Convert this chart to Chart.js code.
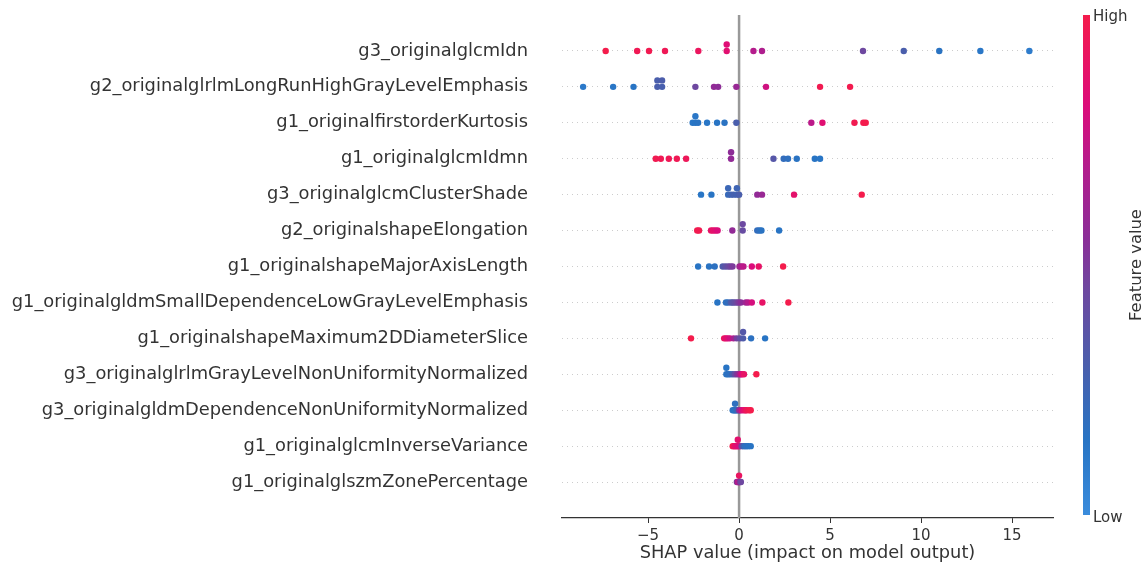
<!DOCTYPE html>
<html>
<head>
<meta charset="utf-8">
<script src="https://cdn.jsdelivr.net/npm/chart.js@4"></script>
<style>
  html, body { margin: 0; padding: 0; background: #fff; }
  #wrap { width: 1148px; height: 564px; }
</style>
</head>
<body>
<div id="wrap"><canvas id="shapChart" width="1148" height="564"></canvas></div>
<script>
// Features, top to bottom
var features = [
  'g3_originalglcmIdn',
  'g2_originalglrlmLongRunHighGrayLevelEmphasis',
  'g1_originalfirstorderKurtosis',
  'g1_originalglcmIdmn',
  'g3_originalglcmClusterShade',
  'g2_originalshapeElongation',
  'g1_originalshapeMajorAxisLength',
  'g1_originalgldmSmallDependenceLowGrayLevelEmphasis',
  'g1_originalshapeMaximum2DDiameterSlice',
  'g3_originalglrlmGrayLevelNonUniformityNormalized',
  'g3_originalgldmDependenceNonUniformityNormalized',
  'g1_originalglcmInverseVariance',
  'g1_originalglszmZonePercentage'
];

// SHAP values per feature
var shapVals = [
  [-7.33, -5.6, -4.95, -4.07, -2.24, -0.68, -0.68, 0.79, 1.26, 6.81, 9.05, 11.0, 13.26, 15.95],
  [-8.57, -6.92, -5.8, -4.49, -4.49, -4.23, -4.23, -2.4, -1.38, -1.15, -0.15, 1.48, 4.45, 6.1],
  [-2.55, -2.4, -2.4, -2.25, -1.76, -1.21, -0.8, -0.15, 3.97, 4.58, 6.34, 6.83, 6.96],
  [-4.58, -4.3, -3.86, -3.42, -2.91, -0.44, -0.44, 1.89, 2.45, 2.69, 3.17, 4.16, 4.45],
  [-2.09, -1.52, -0.6, -0.6, -0.45, -0.3, -0.12, -0.12, 0.0, 1.0, 1.26, 3.02, 6.74],
  [-2.3, -2.2, -1.54, -1.42, -1.3, -1.18, -0.37, 0.2, 0.2, 1.0, 1.12, 1.23, 2.2],
  [-2.25, -1.65, -1.34, -0.9, -0.75, -0.6, -0.48, -0.36, 0.02, 0.12, 0.24, 0.7, 1.08, 2.42],
  [-1.19, -0.72, -0.6, -0.45, -0.35, -0.24, -0.12, -0.02, 0.1, 0.37, 0.5, 0.7, 1.28, 2.71],
  [-2.64, -0.82, -0.72, -0.62, -0.5, -0.3, -0.13, 0.05, 0.22, 0.22, 0.66, 1.43],
  [-0.7, -0.7, -0.6, -0.49, -0.35, -0.22, -0.1, 0.02, 0.1, 0.16, 0.27, 0.95],
  [-0.35, -0.27, -0.22, -0.22, -0.15, -0.09, 0.0, 0.05, 0.15, 0.27, 0.35, 0.42, 0.55, 0.64],
  [-0.35, -0.28, -0.22, -0.15, -0.07, -0.07, 0.0, 0.14, 0.25, 0.33, 0.42, 0.51, 0.64],
  [-0.12, -0.06, -0.03, 0.0, 0.0, 0.05, 0.1]
];

// Normalised feature values (0 = low, 1 = high)
var featVals = [
  [1.0, 0.97, 0.98, 0.96, 0.93, 0.86, 0.84, 0.7, 0.68, 0.45, 0.3, 0.16, 0.13, 0.1],
  [0.12, 0.14, 0.15, 0.3, 0.3, 0.29, 0.31, 0.45, 0.58, 0.56, 0.6, 0.78, 0.98, 0.99],
  [0.14, 0.15, 0.13, 0.16, 0.14, 0.15, 0.16, 0.3, 0.72, 0.85, 0.98, 0.99, 1.0],
  [0.98, 0.97, 0.96, 0.97, 0.95, 0.58, 0.56, 0.35, 0.2, 0.18, 0.16, 0.15, 0.14],
  [0.14, 0.15, 0.22, 0.24, 0.25, 0.28, 0.27, 0.25, 0.3, 0.58, 0.6, 0.88, 1.0],
  [0.99, 0.98, 0.9, 0.88, 0.86, 0.82, 0.58, 0.42, 0.44, 0.2, 0.18, 0.16, 0.15],
  [0.15, 0.16, 0.17, 0.32, 0.38, 0.42, 0.46, 0.5, 0.62, 0.68, 0.72, 0.82, 0.9, 1.0],
  [0.15, 0.17, 0.2, 0.3, 0.36, 0.4, 0.45, 0.5, 0.55, 0.62, 0.7, 0.8, 0.9, 1.0],
  [1.0, 0.92, 0.88, 0.84, 0.78, 0.66, 0.48, 0.4, 0.32, 0.34, 0.17, 0.15],
  [0.16, 0.15, 0.17, 0.18, 0.3, 0.42, 0.52, 0.62, 0.75, 0.82, 0.9, 1.0],
  [0.16, 0.17, 0.15, 0.18, 0.2, 0.24, 0.5, 0.62, 0.8, 0.85, 0.9, 0.95, 0.98, 1.0],
  [1.0, 0.95, 0.88, 0.86, 0.85, 0.87, 0.8, 0.45, 0.25, 0.18, 0.17, 0.16, 0.15],
  [0.5, 0.8, 0.6, 0.7, 0.92, 0.55, 0.45]
];

var xTicks = [-5, 0, 5, 10, 15];

// colour map (low blue -> purple -> high red)
var cmapStops = [
  [0.0, [58, 140, 220]],
  [0.15, [40, 116, 196]],
  [0.3, [74, 94, 172]],
  [0.45, [110, 72, 160]],
  [0.55, [138, 46, 152]],
  [0.7, [180, 28, 140]],
  [0.82, [220, 12, 122]],
  [1.0, [244, 28, 76]]
];

function cmap(t) {
  for (var i = 1; i < cmapStops.length; i++) {
    if (t <= cmapStops[i][0]) {
      var a = cmapStops[i - 1], b = cmapStops[i];
      var f = (t - a[0]) / (b[0] - a[0]);
      var c = a[1].map(function(v, k) { return Math.round(v + (b[1][k] - v) * f); });
      return 'rgb(' + c.join(',') + ')';
    }
  }
  return 'rgb(' + cmapStops[cmapStops.length - 1][1].join(',') + ')';
}

// beeswarm offsets, same idea as shap (100 bins, alternate up/down)
function swarm(vals) {
  var nbins = 100;
  var mn = Math.min.apply(null, vals), mx = Math.max.apply(null, vals);
  var quant = vals.map(function(v) { return Math.round(nbins * (v - mn) / (mx - mn + 1e-8)); });
  var order = vals.map(function(v, i) { return i; }).sort(function(a, b) { return quant[a] - quant[b] || a - b; });
  var ys = vals.map(function() { return 0; });
  var layer = 0, last = -1;
  order.forEach(function(i) {
    if (quant[i] !== last) layer = 0;
    ys[i] = Math.ceil(layer / 2) * ((layer % 2) * 2 - 1);
    layer++;
    last = quant[i];
  });
  var m = Math.max.apply(null, ys.map(function(y) { return y + 1; }));
  return ys.map(function(y) { return y * 0.9 * (0.4 / m); });
}

var points = [], colors = [];
shapVals.forEach(function(row, r) {
  var off = swarm(row);
  row.forEach(function(v, i) {
    points.push({ x: v, y: r - off[i] });
    colors.push(cmap(featVals[r][i]));
  });
});

// zero line behind the dots
var zeroLine = {
  id: 'zeroLine',
  beforeDatasetsDraw: function(chart) {
    var ctx = chart.ctx, a = chart.chartArea;
    var x = chart.scales.x.getPixelForValue(0);
    ctx.save();
    ctx.strokeStyle = '#999999';
    ctx.lineWidth = 2.5;
    ctx.beginPath();
    ctx.moveTo(x, a.top);
    ctx.lineTo(x, a.bottom);
    ctx.stroke();
    ctx.restore();
  }
};

// colour bar on the right
var colorBar = {
  id: 'colorBar',
  afterDraw: function(chart) {
    var ctx = chart.ctx;
    var x = 1083, w = 7, top = 15, bottom = 515;
    var g = ctx.createLinearGradient(0, bottom, 0, top);
    cmapStops.forEach(function(s) { g.addColorStop(s[0], 'rgb(' + s[1].join(',') + ')'); });
    ctx.save();
    ctx.fillStyle = g;
    ctx.fillRect(x, top, w, bottom - top);
    ctx.fillStyle = '#333333';
    ctx.font = '15px "DejaVu Sans"';
    ctx.textBaseline = 'middle';
    ctx.textAlign = 'left';
    ctx.fillText('High', x + w + 3, top + 2);
    ctx.fillText('Low', x + w + 3, bottom + 3);
    ctx.translate(1137, 265);
    ctx.rotate(-Math.PI / 2);
    ctx.textAlign = 'center';
    ctx.font = '16.4px "DejaVu Sans"';
    ctx.fillText('Feature value', 0, 0);
    ctx.restore();
  }
};

new Chart(document.getElementById('shapChart').getContext('2d'), {
  type: 'scatter',
  data: {
    datasets: [{
      data: points,
      backgroundColor: colors,
      pointRadius: 3.2,
      pointHoverRadius: 3.2,
      borderWidth: 0
    }]
  },
  options: {
    responsive: false,
    animation: false,
    events: [],
    layout: { padding: { top: 15, right: 95, bottom: 0, left: 0 } },
    plugins: { legend: { display: false }, tooltip: { enabled: false } },
    scales: {
      x: {
        type: 'linear',
        min: -9.73,
        max: 17.25,
        afterBuildTicks: function(scale) {
          scale.ticks = xTicks.map(function(v) { return { value: v }; });
        },
        afterFit: function(scale) {
          scale.height = 46;
          scale.paddingLeft = 0;
          scale.paddingRight = 0;
        },
        ticks: {
          color: '#333333',
          font: { family: 'DejaVu Sans', size: 15 },
          padding: 4,
          callback: function(v) { return String(v).replace('-', '\u2212'); }
        },
        grid: { drawOnChartArea: false, drawTicks: true, tickLength: 5, tickColor: '#333333', tickWidth: 1 },
        border: { display: true, color: '#333333', width: 1.2 },
        title: {
          display: true,
          text: 'SHAP value (impact on model output)',
          color: '#333333',
          font: { family: 'DejaVu Sans', size: 17.8 },
          padding: { top: 0, bottom: 0 }
        }
      },
      y: {
        type: 'linear',
        reverse: true,
        min: -1,
        max: 13,
        afterBuildTicks: function(scale) {
          scale.ticks = features.map(function(f, i) { return { value: i }; });
        },
        afterFit: function(scale) {
          scale.width = 562;
          scale.paddingTop = 0;
          scale.paddingBottom = 0;
        },
        ticks: {
          autoSkip: false,
          color: '#333333',
          font: { family: 'DejaVu Sans', size: 17.85 },
          padding: 34,
          callback: function(v) { return features[v]; }
        },
        grid: { color: '#cccccc', lineWidth: 1, drawTicks: false },
        border: { display: false, dash: [1, 4] }
      }
    }
  },
  plugins: [zeroLine, colorBar]
});
</script>
</body>
</html>
